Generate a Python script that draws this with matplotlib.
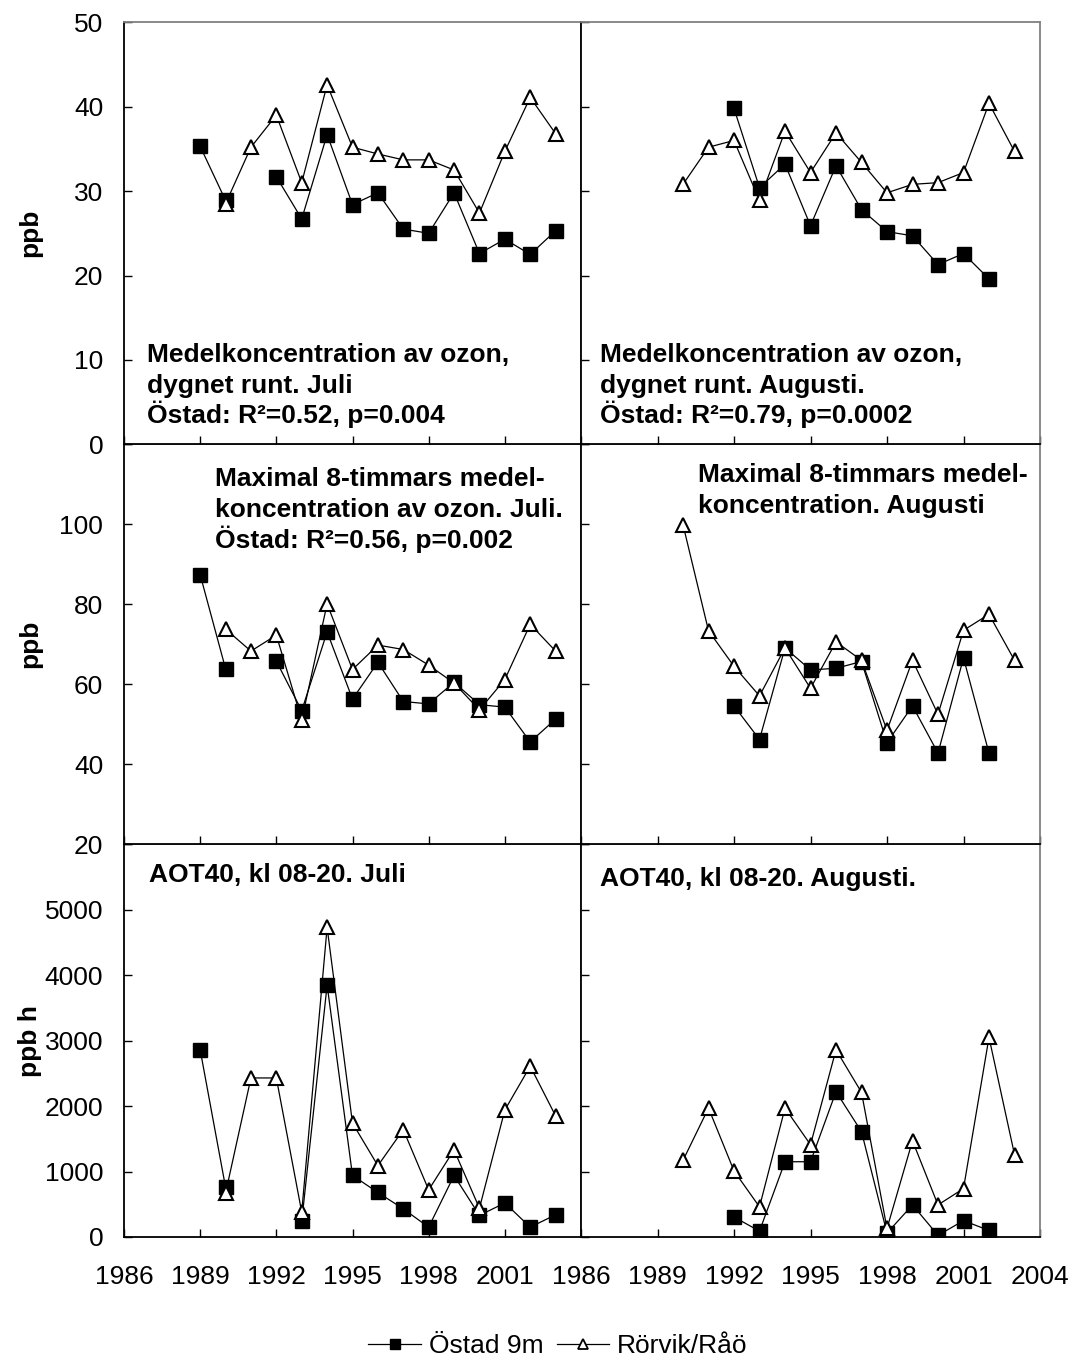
import numpy as np
import matplotlib
matplotlib.use("Agg")
import matplotlib.pyplot as plt
from matplotlib.lines import Line2D

nan = np.nan

years = list(range(1989, 2004))
xticks = [1986, 1989, 1992, 1995, 1998, 2001, 2004]

ostad_mean_jul = [35.3, 28.9, nan, 31.7, 26.7, 36.7, 28.4, 29.8, 25.5, 25.0, 29.8, 22.6, 24.3, 22.5, 25.3]
rorvik_mean_jul = [nan, 28.5, 35.2, 39.0, 31.0, 42.6, 35.2, 34.4, 33.7, 33.7, 32.5, 27.4, 34.7, 41.1, 36.8]
ostad_mean_aug = [nan, nan, nan, 39.8, 30.4, 33.2, 25.9, 33.0, 27.8, 25.2, 24.7, 21.3, 22.6, 19.6, nan]
rorvik_mean_aug = [nan, 30.8, 35.2, 36.0, 28.9, 37.1, 32.2, 36.9, 33.4, 29.8, 30.8, 31.0, 32.2, 40.4, 34.7]

ostad_max8_jul = [87.4, 63.9, nan, 65.8, 53.4, 73.1, 56.3, 65.5, 55.7, 55.1, 60.5, 54.9, 54.3, 45.6, 51.3]
rorvik_max8_jul = [nan, 73.8, 68.3, 72.3, 51.1, 80.1, 63.7, 69.8, 68.7, 64.8, 60.3, 53.6, 61.2, 75.0, 68.3]
ostad_max8_aug = [nan, nan, nan, 54.6, 46.2, 69.1, 63.6, 64.0, 65.7, 45.4, 54.6, 42.8, 66.6, 42.8, nan]
rorvik_max8_aug = [nan, 99.9, 73.4, 64.5, 57.1, 69.1, 59.0, 70.6, 66.0, 48.5, 66.0, 52.5, 73.5, 77.5, 66.0]

ostad_aot_jul = [2860, 760, nan, nan, 240, 3850, 940, 680, 430, 150, 940, 330, 520, 150, 340]
rorvik_aot_jul = [nan, 670, 2430, 2430, 380, 4730, 1740, 1090, 1640, 720, 1330, 440, 1940, 2610, 1850]
ostad_aot_aug = [nan, nan, nan, 305, 90, 1150, 1150, 2220, 1610, 60, 490, 25, 250, 100, nan]
rorvik_aot_aug = [nan, 1170, 1970, 1010, 460, 1970, 1410, 2860, 2210, 130, 1470, 490, 740, 3050, 1260]

series_labels = ["Östad 9m", "Rörvik/Råö"]

texts = {
    (0, 0): ["Medelkoncentration av ozon,", "dygnet runt. Juli", "Östad: R²=0.52, p=0.004"],
    (0, 1): ["Medelkoncentration av ozon,", "dygnet runt. Augusti.", "Östad: R²=0.79, p=0.0002"],
    (1, 0): ["Maximal 8-timmars medel-", "koncentration av ozon. Juli.", "Östad: R²=0.56, p=0.002"],
    (1, 1): ["Maximal 8-timmars medel-", "koncentration. Augusti"],
    (2, 0): ["AOT40, kl 08-20. Juli"],
    (2, 1): ["AOT40, kl 08-20. Augusti."],
}
# left x and first baseline y (pixels), line step (pixels)
text_pos = {
    (0, 0): (147, 362, 30.5), (0, 1): (600, 362, 30.5),
    (1, 0): (215, 486, 31), (1, 1): (698, 482, 30.5),
    (2, 0): (149, 882, 30), (2, 1): (600, 886, 30),
}

data = {
    (0, 0): (ostad_mean_jul, rorvik_mean_jul),
    (0, 1): (ostad_mean_aug, rorvik_mean_aug),
    (1, 0): (ostad_max8_jul, rorvik_max8_jul),
    (1, 1): (ostad_max8_aug, rorvik_max8_aug),
    (2, 0): (ostad_aot_jul, rorvik_aot_jul),
    (2, 1): (ostad_aot_aug, rorvik_aot_aug),
}
ylims = [(0, 50), (20, 120), (0, 6000)]
yticks = [list(range(0, 51, 10)), list(range(20, 121, 20)), list(range(0, 6001, 1000))]
ylabels = ["ppb", "ppb", "ppb h"]

plt.rcParams['font.family'] = ['Liberation Sans', 'DejaVu Sans']
FS = 19

W, H = 1072, 1363
fig = plt.figure(figsize=(W / 100, H / 100), dpi=100)

col_x = [(124, 581), (581, 1040)]
row_y = [(22.3, 444.3), (444.3, 844.3), (844.3, 1237)]


def rect(x0, x1, yt, yb):
    return [x0 / W, 1 - yb / H, (x1 - x0) / W, (yb - yt) / H]


for r in [2, 1, 0]:
    for c in [0, 1]:
        ax = fig.add_axes(rect(col_x[c][0], col_x[c][1], row_y[r][0], row_y[r][1]))
        o, rv = data[(r, c)]
        ax.plot(years, o, color='black', lw=0.9, marker='s', markersize=9.5,
                markerfacecolor='black', markeredgecolor='black', mew=1)
        ax.plot(years, rv, color='black', lw=0.9, marker='^', markersize=10.5,
                markerfacecolor='white', markeredgecolor='black', mew=1.5)
        ax.set_xlim(1986, 2004)
        ax.set_ylim(*ylims[r])
        ax.set_xticks(xticks)
        ax.set_yticks(yticks[r])
        ax.tick_params(direction='in', length=6, width=1, labelsize=FS, color='black')
        ax.tick_params(axis='y', pad=15)
        ax.tick_params(axis='x', pad=20)
        for s in ['left', 'bottom']:
            ax.spines[s].set_color('black')
            ax.spines[s].set_linewidth(1.3)
        for s in ['top', 'right']:
            ax.spines[s].set_color('#808080')
            ax.spines[s].set_linewidth(1.3)
        if c == 1:
            ax.tick_params(labelleft=False)
        else:
            lbls = [str(v) for v in yticks[r]]
            if r > 0:
                lbls[-1] = ''
            ax.set_yticklabels(lbls)
        if r < 2:
            ax.tick_params(labelbottom=False)
        else:
            lbls = [str(v) for v in xticks]
            if c == 0:
                lbls[-1] = ''
            ax.set_xticklabels(lbls)

for key, lines in texts.items():
    px, py, step = text_pos[key]
    for i, line in enumerate(lines):
        fig.text(px / W, 1 - (py + i * step) / H, line, ha='left', va='baseline',
                 fontsize=FS, fontweight='bold')

for r in range(3):
    yc = (row_y[r][0] + row_y[r][1]) / 2
    fig.text(30 / W, 1 - yc / H, ylabels[r], rotation=90, ha='center', va='center',
             fontsize=FS, fontweight='bold')

handles = [
    Line2D([], [], color='black', lw=0.9, marker='s', markersize=7,
           markerfacecolor='black', markeredgecolor='black'),
    Line2D([], [], color='black', lw=0.9, marker='^', markersize=7.5,
           markerfacecolor='white', markeredgecolor='black', mew=1.3),
]
fig.legend(handles, series_labels, loc='center', bbox_to_anchor=(558 / W, 1 - 1346 / H),
           ncol=2, frameon=False, fontsize=FS, handlelength=2.0, handletextpad=0.3,
           columnspacing=0.5, borderpad=0)

fig.savefig("out.png", dpi=100)
